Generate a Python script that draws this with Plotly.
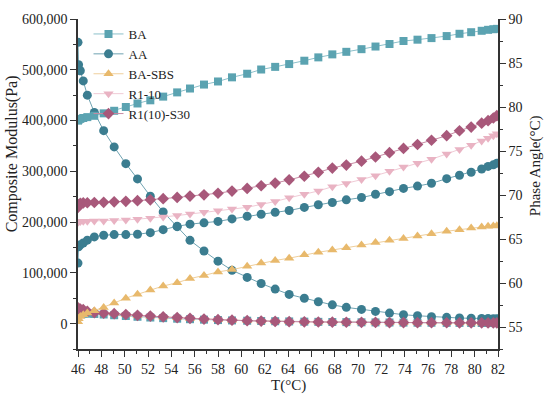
import plotly.graph_objects as go

# Temperature (°C)
T = [46.0, 46.05, 46.2, 46.45, 46.8, 47.4, 48.2, 49.1, 50.1, 51.1,
     52.2, 53.3, 54.5, 55.6, 56.8, 58.0, 59.2, 60.5, 61.7, 62.9,
     64.1, 65.4, 66.6, 67.8, 69.0, 70.3, 71.5, 72.7, 73.9, 75.1,
     76.3, 77.6, 78.7, 79.7, 80.6, 81.15, 81.6, 81.9]

series_names = ["BA", "AA", "BA-SBS", "R1-10", "R1(10)-S30"]

# Composite modulus (Pa) - left axis
mod_BA = [22000, 21000, 20500, 20000, 19500, 19000, 18000, 16500, 15000, 13500,
          12000, 10800, 9700, 8700, 7800, 7000, 6300, 5700, 5200, 4700,
          4300, 3900, 3500, 3200, 2900, 2600, 2400, 2200, 2000, 1800,
          1700, 1500, 1400, 1300, 1200, 1150, 1100, 1050]
mod_AA = [554000, 510000, 498000, 478000, 450000, 416000, 380000, 348000, 315000, 285000,
          251000, 220000, 191000, 164000, 143000, 123000, 105000, 91000, 79000, 68000,
          57500, 50000, 43000, 37000, 32000, 28000, 24000, 20700, 17500, 15500,
          13600, 12400, 11000, 10500, 10200, 10000, 9800, 9700]
mod_BASBS = [33000, 31000, 29500, 28000, 26500, 24000, 21500, 19800, 18000, 16200,
             14600, 13000, 11500, 10200, 8900, 7800, 6800, 5900, 5200, 4600,
             4100, 3700, 3300, 3000, 2700, 2500, 2300, 2100, 1950, 1800,
             1700, 1600, 1500, 1450, 1400, 1350, 1300, 1300]
mod_R110 = [28000, 27000, 26500, 26000, 23000, 20500, 19500, 18500, 17000, 15500,
            14000, 12600, 11200, 9900, 8600, 7500, 6400, 5500, 4800, 4200,
            3700, 3300, 3000, 2700, 2500, 2300, 2100, 1950, 1800, 1700,
            1600, 1500, 1450, 1400, 1350, 1300, 1250, 1250]
mod_R1S30 = [31000, 29500, 28500, 27500, 24000, 21500, 20500, 19500, 18000, 16300,
             14800, 13300, 11800, 10400, 9000, 7800, 6700, 5800, 5000, 4400,
             3900, 3500, 3200, 2900, 2700, 2500, 2300, 2100, 2000, 1900,
             1800, 1700, 1600, 1550, 1500, 1450, 1400, 1400]

# Phase angle - right axis
pa_BA = [78.45, 78.55, 78.65, 78.75, 78.85, 79.0, 79.28, 79.57, 80.0, 80.4,
         80.76, 81.18, 81.66, 82.1, 82.55, 82.9, 83.37, 83.78, 84.26, 84.56,
         84.88, 85.26, 85.64, 85.98, 86.27, 86.57, 86.87, 87.16, 87.5, 87.65,
         87.83, 88.06, 88.32, 88.5, 88.66, 88.77, 88.84, 88.88]
pa_AA = [62.26, 64.12, 64.35, 64.55, 64.87, 65.24, 65.43, 65.5, 65.5, 65.54,
         65.72, 66.06, 66.44, 66.69, 66.84, 67.0, 67.28, 67.59, 67.81, 68.03,
         68.24, 68.59, 68.89, 69.15, 69.45, 69.71, 70.08, 70.38, 70.75, 71.01,
         71.33, 71.86, 72.24, 72.58, 72.95, 73.25, 73.43, 73.62]
pa_BASBS = [55.6, 55.94, 56.2, 56.4, 56.6, 56.86, 57.23, 57.72, 58.28, 58.73,
            59.2, 59.66, 60.03, 60.5, 60.86, 61.26, 61.52, 61.89, 62.26, 62.56,
            62.82, 63.2, 63.49, 63.75, 64.01, 64.31, 64.6, 64.87, 65.05, 65.35,
            65.61, 65.88, 66.06, 66.25, 66.36, 66.44, 66.47, 66.5]
pa_R110 = [66.9, 66.95, 67.0, 67.02, 67.03, 67.04, 67.05, 67.1, 67.17, 67.25,
           67.36, 67.51, 67.66, 67.84, 68.03, 68.22, 68.4, 68.6, 68.93, 69.26,
           69.68, 70.08, 70.46, 70.94, 71.3, 71.75, 72.2, 72.69, 73.17, 73.61,
           74.06, 74.65, 75.18, 75.66, 76.15, 76.44, 76.74, 76.97]
pa_R1S30 = [68.6, 68.9, 69.05, 69.1, 69.12, 69.15, 69.17, 69.22, 69.28, 69.35,
            69.45, 69.58, 69.72, 69.88, 70.02, 70.2, 70.45, 70.75, 71.05, 71.35,
            71.72, 72.13, 72.58, 73.06, 73.4, 73.84, 74.32, 74.81, 75.29, 75.74,
            76.22, 76.74, 77.3, 77.72, 78.16, 78.45, 78.75, 79.01]

x_ticks = list(range(46, 83, 2))
y_ticks = [0, 100000, 200000, 300000, 400000, 500000, 600000]
y2_ticks = [55, 60, 65, 70, 75, 80, 85, 90]

modulus = [mod_BA, mod_AA, mod_BASBS, mod_R110, mod_R1S30]
phase = [pa_BA, pa_AA, pa_BASBS, pa_R110, pa_R1S30]
colors = ["#5ba3b1", "#3b7d90", "#e8b96c", "#e9b3c3", "#a8587a"]
line_colors = ["#8cc0ca", "#6fa3b2", "#efcf9c", "#f0cbd6", "#c78aa3"]
symbols = ["square", "circle", "triangle-up", "triangle-down", "diamond"]
sizes = [8, 9, 9, 9, 9]

FONT = "Liberation Serif, Times New Roman, serif"

fig = go.Figure()
for i, name in enumerate(series_names):
    fig.add_trace(go.Scatter(
        x=T, y=modulus[i], name=name, legendgroup=name, mode="lines+markers",
        line=dict(color=line_colors[i], width=1),
        marker=dict(symbol=symbols[i], size=sizes[i], color=colors[i]),
        yaxis="y", showlegend=True))
for i, name in enumerate(series_names):
    fig.add_trace(go.Scatter(
        x=T, y=phase[i], name=name, legendgroup=name, mode="lines+markers",
        line=dict(color=line_colors[i], width=1),
        marker=dict(symbol=symbols[i], size=sizes[i], color=colors[i]),
        yaxis="y2", showlegend=False))

axis_common = dict(showgrid=False, zeroline=False, showline=True,
                   linecolor="#333333", linewidth=1.5,
                   tickcolor="#333333", tickwidth=1.2,
                   tickfont=dict(family=FONT, size=14, color="#222222"))

fig.update_layout(
    width=550, height=395,
    margin=dict(l=78, r=52, t=13, b=46),
    paper_bgcolor="white", plot_bgcolor="white",
    font=dict(family=FONT, size=14, color="#222222"),
    showlegend=True,
    legend=dict(x=0.025, y=1.0, xanchor="left", yanchor="top",
                bgcolor="rgba(0,0,0,0)", font=dict(family=FONT, size=13),
                tracegroupgap=0),
    xaxis=dict(range=[46, 82], tickvals=x_ticks, ticks="outside", ticklen=6,
               minor=dict(dtick=1, tick0=46, ticks="outside", ticklen=3,
                          tickcolor="#333333", tickwidth=1.2),
               **axis_common),
    xaxis2=dict(range=[46, 82], overlaying="x", side="top", anchor="y",
                tickvals=x_ticks, ticks="inside", ticklen=5, showticklabels=False,
                minor=dict(dtick=1, tick0=46, ticks="inside", ticklen=3,
                           tickcolor="#333333", tickwidth=1.2),
                **axis_common),
    yaxis=dict(range=[-50000, 600000], tickvals=y_ticks, tickformat=",d",
               ticks="outside", ticklen=6,
               minor=dict(dtick=50000, tick0=0, ticks="outside", ticklen=3,
                          tickcolor="#333333", tickwidth=1.2),
               **axis_common),
    yaxis2=dict(range=[52.5, 90], tickvals=y2_ticks, overlaying="y", side="right",
                anchor="x", ticks="outside", ticklen=6,
                minor=dict(dtick=2.5, tick0=55, ticks="outside", ticklen=3,
                           tickcolor="#333333", tickwidth=1.2),
                **axis_common),
    annotations=[
        dict(text="T(°C)", xref="paper", yref="paper", x=0.5, y=-0.11,
             xanchor="center", yanchor="middle", showarrow=False,
             font=dict(family=FONT, size=15)),
        dict(text="Composite Modulus(Pa)", xref="paper", yref="paper",
             x=-0.157, y=0.59, xanchor="center", yanchor="middle", textangle=-90,
             showarrow=False, font=dict(family=FONT, size=16)),
        dict(text="Phase Angle(°C)", xref="paper", yref="paper",
             x=1.088, y=0.557, xanchor="center", yanchor="middle", textangle=-90,
             showarrow=False, font=dict(family=FONT, size=15)),
    ],
)

fig.write_html("out.html", config={"displayModeBar": False},
               post_script="document.body.style.margin='0';")
